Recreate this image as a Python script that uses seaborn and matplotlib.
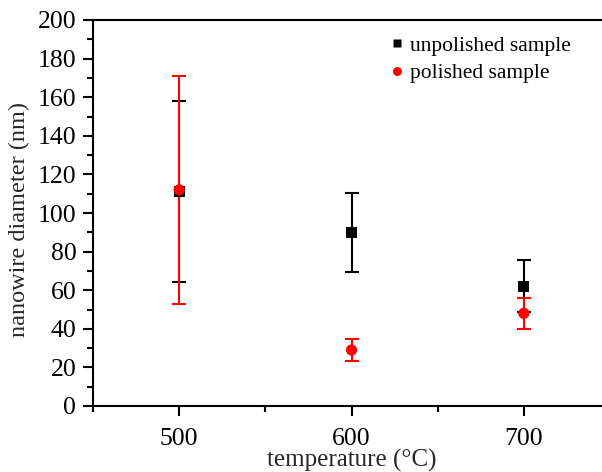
import matplotlib
matplotlib.use("Agg")
import matplotlib.pyplot as plt
import seaborn as sns
import pandas as pd
from matplotlib.ticker import MultipleLocator

temperature = [500, 600, 700]
unpolished = [111, 90, 62]
unpolished_err = [47, 20.5, 13.5]
polished = [112, 29, 48]
polished_err = [59, 5.5, 8]
series_names = ["unpolished sample", "polished sample"]

sns.set_theme(style="ticks")
plt.rcParams['font.family'] = ['Liberation Serif', 'DejaVu Serif']

df = pd.DataFrame({
    "temperature": temperature * 2,
    "diameter": unpolished + polished,
    "sample": [series_names[0]] * 3 + [series_names[1]] * 3,
})

fig = plt.figure(figsize=(6.02, 4.72), dpi=100)
ax = fig.add_axes([93/602, 1-406/472, (610-93)/602, (406-20)/472])

colors = {series_names[0]: "black", series_names[1]: "red"}
markers = {series_names[0]: "s", series_names[1]: "o"}

ax.errorbar(temperature, unpolished, yerr=unpolished_err, fmt="none", ecolor="black",
            elinewidth=1.5, capsize=5, capthick=1.5, zorder=2)
ax.errorbar(temperature, polished, yerr=polished_err, fmt="none", ecolor="red",
            elinewidth=1.5, capsize=5, capthick=1.5, zorder=3)
sns.scatterplot(data=df, x="temperature", y="diameter", hue="sample", style="sample",
                palette=colors, markers=markers, s=65, edgecolor="none", ax=ax, zorder=4)

ax.set_xlim(450, 750)
ax.set_ylim(0, 200)
ax.xaxis.set_major_locator(MultipleLocator(100))
ax.xaxis.set_minor_locator(MultipleLocator(50))
ax.yaxis.set_major_locator(MultipleLocator(20))
ax.yaxis.set_minor_locator(MultipleLocator(10))
ax.tick_params(axis="both", which="major", direction="out", length=7, width=1.5,
               labelsize=18.5, color="black", labelcolor="black")
ax.tick_params(axis="both", which="minor", direction="out", length=4, width=1.5, color="black")
ax.tick_params(axis="x", pad=9)
ax.tick_params(axis="y", pad=5)
ax.set_xlabel("temperature (°C)", fontsize=18, labelpad=-1)
ax.set_ylabel("nanowire diameter (nm)", fontsize=17.5)
ax.yaxis.set_label_coords(-0.122, 0.482)
for side in ["left", "bottom", "top"]:
    ax.spines[side].set_linewidth(1.5)
    ax.spines[side].set_color("black")
ax.spines["right"].set_visible(False)

leg = ax.legend(loc="upper left", bbox_to_anchor=(0.539, 1.01), frameon=False, fontsize=15.5,
                handlelength=0.6, handletextpad=0.3, labelspacing=0.35, markerscale=0.8)
for t in leg.get_texts():
    t.set_color("black")

fig.savefig("out.png", dpi=100)
